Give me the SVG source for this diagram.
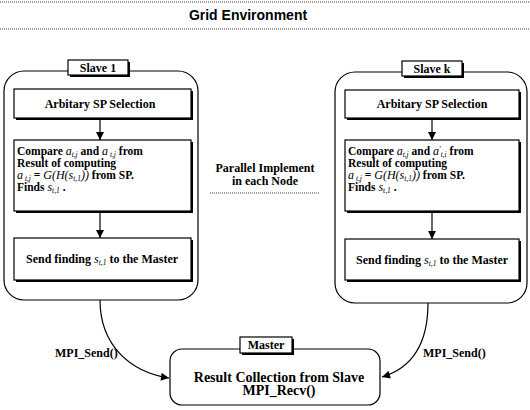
<svg xmlns="http://www.w3.org/2000/svg" width="530" height="410" viewBox="0 0 530 410">
<style>
.bg{fill:#fff}
.dot{stroke:#444;stroke-width:1.2;stroke-dasharray:1 1;fill:none}
.cont{fill:none;stroke:#000;stroke-width:1.2}
.box{fill:#fff;stroke:#000;stroke-width:1.2}
.sh{fill:#000}
.t{font-family:"Liberation Serif","Times New Roman",serif;font-size:12px;font-weight:bold;fill:#000}
.cmp{font-size:11.5px}
.tc{text-anchor:middle}
.big{font-size:14px}
.m{font-style:italic;font-weight:normal;font-size:12px}
.s{font-size:7.5px;font-style:italic;font-weight:normal}
.title{font-family:"Liberation Sans",Arial,sans-serif;font-size:14px;font-weight:bold;text-anchor:middle;fill:#000}
.conn{fill:none;stroke:#000;stroke-width:1.2}
</style>
<defs>
<marker id="ah" viewBox="0 0 10 10" refX="10" refY="5" markerWidth="8" markerHeight="8" markerUnits="userSpaceOnUse" orient="auto">
<path d="M0,0 L10,5 L0,10 z" fill="#000"/>
</marker>
<marker id="ah2" viewBox="0 0 10 10" refX="10" refY="5" markerWidth="11" markerHeight="8" markerUnits="userSpaceOnUse" orient="auto">
<path d="M0,0 L10,5 L0,10 z" fill="#000"/>
</marker>
</defs>
<rect class="bg" x="0" y="0" width="530" height="410"/>

<g id="title">
<line class="dot" x1="0" y1="2" x2="530" y2="2"/>
<text class="title" x="248" y="20">Grid Environment</text>
<line class="dot" x1="0" y1="29" x2="530" y2="29"/>
</g>

<g id="slave1">
<rect class="cont" x="4" y="71" width="194" height="229" rx="20"/>
<rect class="sh" x="70" y="62" width="60" height="15"/>
<rect class="box" x="68" y="60" width="60" height="15"/>
<text class="t tc" x="98" y="72">Slave 1</text>
</g>
<g id="s1-select">
<rect class="sh" x="16" y="91" width="177" height="29"/>
<rect class="box" x="14" y="89" width="177" height="29"/>
<text class="t tc" x="100" y="108">Arbitary SP Selection</text>
</g>
<g id="s1-compare">
<rect class="sh" x="16" y="142" width="177" height="71"/>
<rect class="box" x="14" y="140" width="177" height="71"/>
<text class="t cmp" x="17" y="155">Compare <tspan class="m">a</tspan><tspan class="s" dy="2">t,j</tspan><tspan dy="-2"> and </tspan><tspan class="m">a</tspan><tspan class="s" dy="2"> t,j</tspan><tspan dy="-2"> from</tspan></text>
<text class="t cmp" x="17" y="167">Result of computing</text>
<text class="t cmp" x="17" y="179"><tspan class="m">a</tspan><tspan class="s" dy="2"> t,j</tspan><tspan dy="-2"> = </tspan><tspan class="m">G(H(s</tspan><tspan class="s" dy="2">t,1</tspan><tspan class="m" dy="-2">))</tspan><tspan> from SP.</tspan></text>
<text class="t cmp" x="17" y="191">Finds <tspan class="m">s</tspan><tspan class="s" dy="2">t,1</tspan><tspan dy="-2"> .</tspan></text>
</g>
<g id="s1-send">
<rect class="sh" x="16" y="240" width="177" height="42"/>
<rect class="box" x="14" y="238" width="177" height="42"/>
<text class="t tc" x="102" y="263">Send finding <tspan class="m">s</tspan><tspan class="s" dy="2">t,1</tspan><tspan dy="-2"> to the Master</tspan></text>
</g>

<g id="center-note">
<text class="t tc" x="265" y="172">Parallel Implement</text>
<text class="t tc" x="265" y="185">in each Node</text>
<line class="dot" x1="210" y1="193" x2="320" y2="193"/>
</g>

<g id="slavek">
<rect class="cont" x="335" y="72" width="192" height="231" rx="20"/>
<rect class="sh" x="404" y="63" width="60" height="15"/>
<rect class="box" x="402" y="61" width="60" height="15"/>
<text class="t tc" x="432" y="73">Slave k</text>
</g>
<g id="sk-select">
<rect class="sh" x="347" y="92" width="174" height="28"/>
<rect class="box" x="345" y="90" width="174" height="28"/>
<text class="t tc" x="432" y="108">Arbitary SP Selection</text>
</g>
<g id="sk-compare">
<rect class="sh" x="347" y="142" width="174" height="71"/>
<rect class="box" x="345" y="140" width="174" height="71"/>
<text class="t cmp" x="348" y="155">Compare <tspan class="m">a</tspan><tspan class="s" dy="2">t,j</tspan><tspan dy="-2"> and </tspan><tspan class="m">a</tspan><tspan class="s" dy="-3">′</tspan><tspan class="s" dy="5">t,i</tspan><tspan dy="-2"> from</tspan></text>
<text class="t cmp" x="348" y="167">Result of computing</text>
<text class="t cmp" x="348" y="179"><tspan class="m">a</tspan><tspan class="s" dy="2"> t,j</tspan><tspan dy="-2"> = </tspan><tspan class="m">G(H(s</tspan><tspan class="s" dy="2">t,1</tspan><tspan class="m" dy="-2">))</tspan><tspan> from SP.</tspan></text>
<text class="t cmp" x="348" y="191">Finds <tspan class="m">s</tspan><tspan class="s" dy="2">t,1</tspan><tspan dy="-2"> .</tspan></text>
</g>
<g id="sk-send">
<rect class="sh" x="347" y="241" width="174" height="41"/>
<rect class="box" x="345" y="239" width="174" height="41"/>
<text class="t tc" x="432" y="264">Send finding <tspan class="m">s</tspan><tspan class="s" dy="2">t,1</tspan><tspan dy="-2"> to the Master</tspan></text>
</g>

<g id="master">
<rect class="cont" x="170" y="349" width="210" height="56" rx="12"/>
<rect class="sh" x="242" y="339" width="52" height="16"/>
<rect class="box" x="240" y="337" width="52" height="16"/>
<text class="t tc" x="266" y="349">Master</text>
<text class="t tc big" x="279" y="382">Result Collection from Slave</text>
<text class="t tc big" x="279" y="395">MPI_Recv()</text>
</g>

<g id="connectors">
<line class="conn" x1="100" y1="118" x2="100" y2="140" marker-end="url(#ah)"/>
<line class="conn" x1="100" y1="211" x2="100" y2="238" marker-end="url(#ah)"/>
<line class="conn" x1="432" y1="118" x2="432" y2="140" marker-end="url(#ah)"/>
<line class="conn" x1="432" y1="211" x2="432" y2="239" marker-end="url(#ah)"/>
<path class="conn" d="M100,300 C100,345 130,372 169,378" marker-end="url(#ah2)"/>
<path class="conn" d="M428,303 C428,345 412,368 382,377" marker-end="url(#ah2)"/>
<text class="t" x="55" y="357">MPI_Send()</text>
<text class="t" x="423" y="357">MPI_Send()</text>
</g>
</svg>
